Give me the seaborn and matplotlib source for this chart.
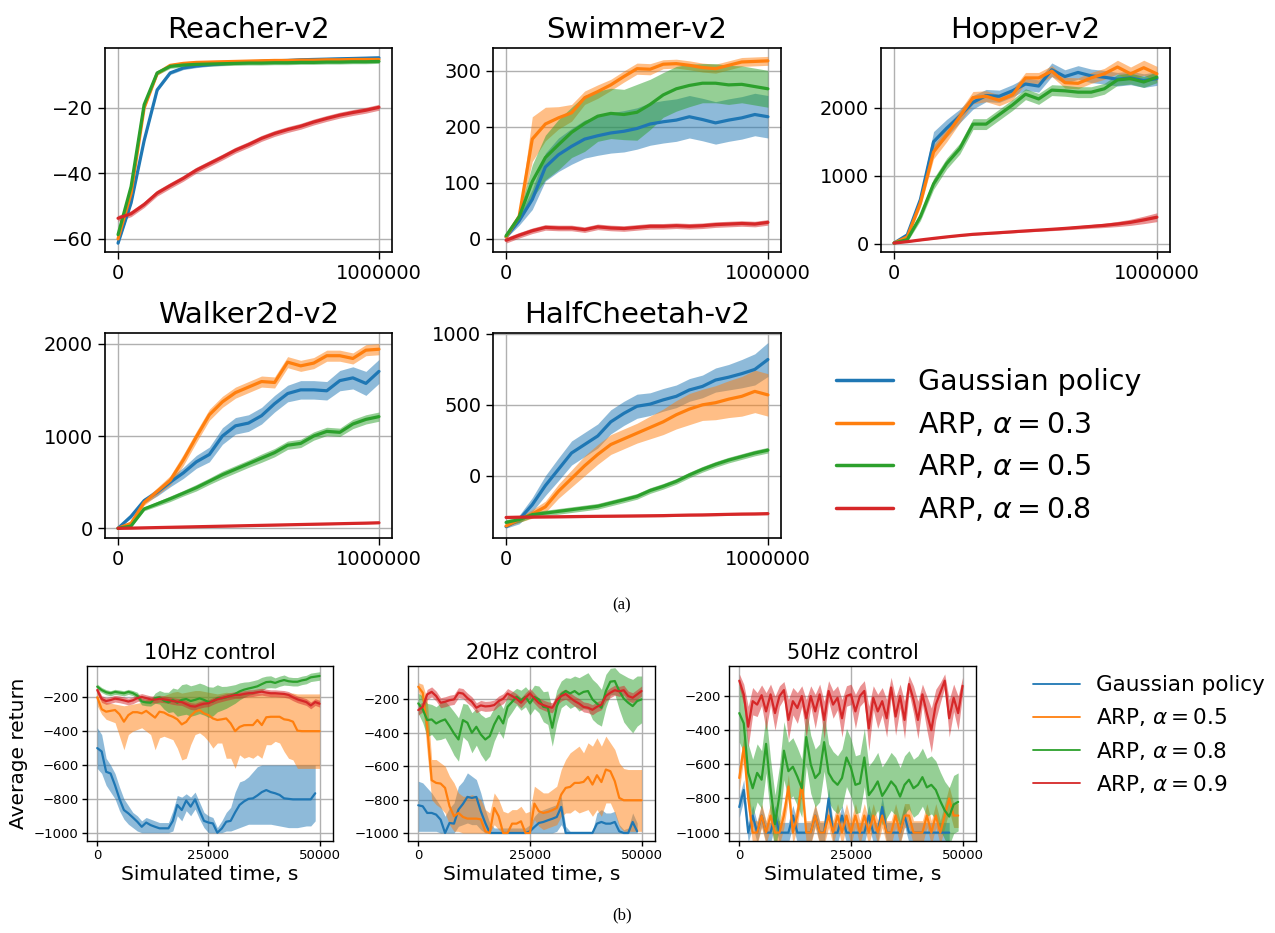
import numpy as np
import pandas as pd
import matplotlib
matplotlib.use("Agg")
import matplotlib.pyplot as plt
import seaborn as sns
from matplotlib.lines import Line2D

nan = np.nan

# ---------------- data: top panels (x every 50k steps) ----------------
TOP_X = list(range(0, 1000001, 50000))
TOP_TITLES = ["Reacher-v2", "Swimmer-v2", "Hopper-v2", "Walker2d-v2", "HalfCheetah-v2"]
TOP_LABELS = ["Gaussian policy", r"ARP, $\alpha=0.3$", r"ARP, $\alpha=0.5$", r"ARP, $\alpha=0.8$"]

R_BLUE = [-61.3, -49, -30, -14.5, -9.3, -7.8, -7.2, -6.8, -6.5, -6.2, -6.0, -5.8, -5.6, -5.5, -5.3, -5.2, -5.1, -5.0, -4.9, -4.8, -4.7]
R_ORANGE = [-60, -46, -20, -9.5, -7, -6.4, -6.1, -6.0, -5.9, -5.8, -5.7, -5.6, -5.5, -5.5, -5.4, -5.4, -5.3, -5.3, -5.2, -5.2, -5.2]
R_GREEN = [-58.7, -44, -19, -9.3, -7.3, -6.9, -6.7, -6.6, -6.5, -6.4, -6.3, -6.3, -6.2, -6.2, -6.1, -6.1, -6.0, -6.0, -5.9, -5.9, -5.8]
R_RED = [-53.7, -52.3, -49.5, -46, -43.7, -41.5, -39, -37, -35, -32.9, -31.2, -29.3, -27.8, -26.6, -25.6, -24.3, -23.2, -22.2, -21.4, -20.7, -19.8]
R_HW = [0.5, 0.5, 0.6, 0.9]

S_BLUE = [3, 32, 70, 128, 150, 165, 178, 184, 189, 192, 197, 205, 209, 212, 218, 213, 207, 212, 216, 222, 218]
S_ORANGE = [3, 40, 178, 205, 216, 225, 252, 263, 275, 290, 304, 303, 312, 313, 310, 306, 304, 310, 316, 317, 318]
S_GREEN = [5, 39, 102, 145, 168, 190, 206, 219, 224, 222, 226, 240, 257, 268, 274, 278, 278, 275, 276, 272, 268]
S_RED = [-3, 6, 14, 20, 19, 19, 16, 21, 19, 18, 20, 22, 22, 23, 22, 23, 25, 26, 27, 26, 29]
S_BLUE_HW = [2, 8, 18, 25, 30, 32, 34, 35, 36, 37, 37, 38, 38, 38, 38, 38, 38, 38, 38, 38, 38]
S_ORANGE_HW = [3, 5, 40, 30, 20, 15, 12, 12, 10, 10, 10, 10, 8, 8, 8, 8, 8, 8, 8, 8, 8]
S_GREEN_HW = [3, 8, 30, 40, 45, 45, 50, 45, 45, 45, 50, 45, 40, 40, 38, 35, 35, 35, 33, 33, 33]
S_RED_HW = 5

H_BLUE = [10, 130, 650, 1500, 1700, 1880, 2080, 2180, 2170, 2250, 2350, 2320, 2560, 2460, 2520, 2470, 2450, 2420, 2440, 2400, 2430]
H_ORANGE = [10, 100, 600, 1350, 1600, 1870, 2150, 2170, 2110, 2190, 2440, 2440, 2540, 2370, 2360, 2440, 2500, 2600, 2500, 2590, 2500]
H_GREEN = [10, 60, 400, 880, 1180, 1400, 1760, 1760, 1900, 2040, 2200, 2130, 2260, 2250, 2230, 2230, 2280, 2410, 2430, 2380, 2450]
H_RED = [10, 30, 55, 78, 100, 120, 138, 150, 162, 175, 188, 200, 212, 225, 240, 255, 270, 290, 315, 350, 390]
H_BLUE_HW = [10, 30, 80, 150, 130, 100, 100, 90, 90, 90, 90, 90, 100, 100, 100, 100, 100, 100, 100, 100, 100]
H_ORANGE_HW = [10, 30, 60, 100, 100, 90, 90, 80, 80, 80, 80, 80, 80, 80, 80, 80, 80, 100, 100, 110, 110]
H_GREEN_HW = [10, 30, 60, 80, 80, 80, 80, 80, 80, 80, 80, 80, 80, 80, 80, 80, 80, 80, 80, 80, 80]
H_RED_HW = [5, 8, 10, 10, 10, 10, 12, 12, 14, 15, 16, 18, 20, 22, 25, 28, 32, 38, 45, 55, 65]

W_BLUE = [0, 130, 300, 390, 500, 600, 720, 800, 1000, 1110, 1140, 1220, 1350, 1460, 1500, 1500, 1490, 1600, 1630, 1570, 1700]
W_ORANGE = [0, 55, 280, 400, 520, 740, 990, 1230, 1370, 1470, 1530, 1590, 1580, 1800, 1760, 1790, 1870, 1870, 1840, 1930, 1940]
W_GREEN = [0, 25, 210, 265, 320, 380, 440, 510, 580, 640, 700, 760, 820, 900, 920, 1000, 1050, 1040, 1130, 1180, 1210]
W_RED = [0, 2, 5, 8, 11, 14, 17, 20, 23, 26, 29, 32, 35, 38, 41, 44, 47, 50, 53, 56, 60]
W_BLUE_HW = [5, 20, 30, 40, 50, 60, 70, 80, 90, 90, 90, 90, 90, 90, 100, 100, 100, 110, 120, 130, 130]
W_ORANGE_HW = [5, 20, 30, 40, 50, 60, 60, 60, 60, 60, 60, 60, 60, 60, 60, 60, 60, 60, 60, 60, 60]
W_GREEN_HW = [5, 10, 20, 25, 30, 30, 35, 35, 40, 40, 40, 45, 45, 45, 45, 45, 45, 45, 50, 50, 50]
W_RED_HW = 8

C_BLUE = [-360, -310, -205, -70, 45, 160, 220, 280, 380, 440, 490, 505, 535, 560, 605, 630, 675, 695, 720, 750, 820]
C_ORANGE = [-355, -310, -270, -220, -110, -20, 70, 150, 220, 260, 300, 340, 380, 430, 470, 500, 515, 540, 560, 595, 570]
C_GREEN = [-330, -310, -275, -264, -252, -240, -228, -216, -193, -170, -146, -105, -75, -40, 5, 45, 80, 110, 135, 160, 180]
C_RED = [-295, -293, -292, -291, -290, -289, -288, -287, -286, -285, -284, -283, -282, -280, -278, -277, -275, -273, -271, -270, -268]
C_BLUE_HW = [10, 30, 50, 70, 80, 85, 85, 85, 85, 85, 85, 80, 80, 80, 80, 80, 85, 90, 100, 110, 120]
C_ORANGE_HW = [10, 20, 30, 40, 50, 60, 70, 70, 70, 70, 70, 80, 90, 100, 110, 110, 120, 130, 140, 150, 150]
C_GREEN_HW = 20
C_RED_HW = 8

TOP_YTICKS = [[-60, -40, -20], [0, 100, 200, 300], [0, 1000, 2000], [0, 1000, 2000], [0, 500, 1000]]
TOP_YLIM = [(-64, -1.7), (-24, 341), (-122, 2880), (-105, 2116), (-440, 1007)]

# ---------------- data: bottom panels (x every 1000 s) ----------------
BOT_X = list(range(0, 50001, 1000))
BOT_TITLES = ["10Hz control", "20Hz control", "50Hz control"]
BOT_LABELS = ["Gaussian policy", r"ARP, $\alpha=0.5$", r"ARP, $\alpha=0.8$", r"ARP, $\alpha=0.9$"]

# 10 Hz
A_BLUE = [-500, -520, -640, -650, -720, -800, -866, -886, -910, -935,
          -965, -940, -955, -965, -974, -974, -974, -930, -836, -866,
          -810, -846, -803, -870, -930, -940, -945, -1000, -975, -935,
          -930, -880, -836, -815, -800, -797, -780, -760, -748, -760,
          -767, -777, -797, -800, -803, -803, -803, -803, -803, -767, nan]
A_BLUE_HI = [-380, -420, -560, -600, -650, -730, -800, -840, -880, -900,
             -930, -910, -920, -930, -940, -940, -940, -870, -780, -790,
             -770, -790, -760, -820, -880, -900, -910, -970, -930, -880,
             -850, -760, -700, -690, -670, -640, -610, -600, -600, -600,
             -600, -600, -600, -600, -600, -600, -600, -600, -600, -600, nan]
A_BLUE_LO = [-620, -650, -720, -760, -800, -870, -920, -950, -970, -990,
             -1000, -1000, -1000, -1000, -1000, -1000, -1000, -990, -900, -930,
             -870, -900, -860, -920, -970, -1000, -1000, -1000, -1000, -990,
             -990, -980, -970, -960, -950, -950, -950, -950, -950, -950,
             -955, -960, -965, -970, -970, -970, -965, -960, -960, -930, nan]
A_ORANGE = [-200, -270, -285, -280, -275, -300, -344, -305, -288, -288,
            -295, -280, -300, -320, -285, -290, -305, -315, -330, -360,
            -345, -310, -285, -275, -295, -305, -325, -334, -330, -325,
            -354, -400, -375, -365, -364, -364, -334, -364, -318, -315,
            -315, -315, -330, -334, -344, -397, -400, -400, -400, -400, -400]
A_ORANGE_HI = [-150, -200, -230, -235, -240, -245, -250, -245, -240, -235,
               -230, -215, -210, -220, -200, -190, -180, -170, -165, -175,
               -170, -165, -160, -160, -165, -170, -175, -180, -175, -170,
               -175, -180, -175, -175, -175, -175, -175, -175, -175, -175,
               -175, -175, -175, -175, -175, -180, -180, -180, -180, -180, -180]
A_ORANGE_LO = [-250, -300, -330, -340, -350, -430, -510, -420, -400, -390,
               -380, -400, -420, -510, -440, -430, -440, -450, -500, -570,
               -560, -480, -420, -410, -430, -460, -500, -470, -470, -560,
               -560, -620, -540, -560, -550, -560, -540, -560, -480, -480,
               -460, -470, -520, -560, -570, -620, -620, -620, -620, -620, -620]
A_GREEN = [-137, -157, -170, -176, -168, -172, -176, -168, -175, -190,
           -225, -230, -232, -205, -200, -220, -230, -215, -232, -215,
           -210, -222, -215, -206, -215, -228, -225, -206, -206, -200,
           -190, -180, -165, -155, -148, -142, -135, -122, -110, -108,
           -115, -105, -98, -105, -108, -108, -100, -95, -82, -78, -74]
A_GREEN_HW = [15, 15, 15, 15, 15, 15, 15, 15, 15, 20,
              20, 20, 20, 30, 40, 50, 60, 70, 80, 90,
              90, 90, 90, 90, 90, 90, 85, 80, 70, 65,
              60, 55, 50, 45, 40, 40, 40, 40, 35, 35,
              30, 30, 30, 25, 25, 25, 25, 25, 25, 25, 25]
A_RED = [-157, -210, -222, -216, -208, -212, -218, -225, -218, -205,
         -198, -205, -212, -214, -208, -212, -216, -222, -226, -228,
         -240, -252, -255, -245, -238, -235, -222, -212, -205, -198,
         -192, -186, -186, -180, -176, -175, -170, -167, -172, -176,
         -176, -178, -180, -186, -200, -212, -220, -228, -248, -228, -238]
A_RED_HW = 20

# 20 Hz
B_BLUE = [-834, -840, -880, -880, -890, -920, -1000, -940, -944, -860,
          -826, -784, -790, -784, -870, -940, -1000, -1000, -1000, -1000,
          -1000, -1000, -1000, -1000, -1000, -990, -964, -940, -934, -924,
          -915, -904, -844, -1000, -1000, -1000, -1000, -1000, -1000, -1000,
          -944, -934, -944, -944, -934, -990, -1000, -1000, -934, -990, nan]
B_BLUE_HI = [-690, -700, -730, -760, -800, -840, -900, -850, -820, -720,
             -690, -640, -660, -680, -760, -860, -940, -970, -970, -970,
             -970, -970, -970, -970, -970, -950, -900, -870, -860, -850,
             -840, -830, -780, -960, -990, -990, -990, -990, -990, -990,
             -880, -860, -880, -880, -870, -950, -980, -970, -880, -940, nan]
B_BLUE_LO = [-990, -990, -990, -990, -990, -1000, -1000, -1000, -1000, -960,
             -950, -940, -950, -950, -980, -1000, -1000, -1000, -1000, -1000,
             -1000, -1000, -1000, -1000, -1000, -1000, -1000, -1000, -1000, -1000,
             -1000, -990, -950, -1000, -1000, -1000, -1000, -1000, -1000, -1000,
             -1000, -1000, -1000, -1000, -1000, -1000, -1000, -1000, -1000, -1000, nan]
B_ORANGE = [-124, -160, -364, -684, -700, -704, -730, -840, -900, -880,
            -904, -914, -914, -914, -918, -990, -1000, -850, -900, -1000,
            -1000, -944, -944, -930, -1000, -1000, -824, -870, -880, -874,
            -864, -850, -770, -730, -724, -700, -700, -694, -664, -710,
            -654, -695, -620, -630, -690, -790, -804, -804, -804, -804, -804]
B_ORANGE_HI = [-100, -110, -200, -560, -560, -580, -600, -660, -700, -760,
               -780, -780, -770, -780, -800, -860, -880, -760, -800, -870,
               -880, -860, -860, -840, -880, -870, -720, -740, -760, -760,
               -740, -720, -620, -560, -520, -500, -480, -520, -460, -480,
               -430, -480, -420, -460, -500, -580, -614, -620, -620, -620, -620]
B_ORANGE_LO = [-150, -220, -520, -800, -830, -850, -880, -950, -990, -990,
               -1000, -1000, -1000, -1000, -1000, -1000, -1000, -950, -980, -1000,
               -1000, -1000, -1000, -1000, -1000, -1000, -920, -960, -980, -970,
               -960, -950, -900, -880, -880, -860, -880, -870, -860, -900,
               -860, -900, -820, -820, -880, -960, -990, -990, -990, -990, -990]
B_GREEN = [-224, -260, -324, -320, -344, -330, -320, -360, -404, -440,
           -324, -340, -400, -364, -410, -440, -420, -350, -300, -344,
           -244, -215, -184, -205, -184, -224, -185, -200, -244, -250,
           -370, -244, -170, -150, -164, -150, -170, -155, -150, -200,
           -225, -250, -150, -94, -90, -150, -195, -220, -240, -210, -200]
B_GREEN_HW = [60, 80, 100, 90, 100, 110, 110, 120, 130, 130,
              100, 110, 120, 110, 120, 130, 120, 100, 90, 90,
              70, 60, 50, 60, 60, 70, 70, 80, 90, 100,
              110, 100, 80, 80, 90, 90, 100, 100, 110, 120,
              120, 110, 100, 80, 80, 110, 140, 150, 160, 150, 140]
B_RED = [-264, -244, -170, -155, -180, -220, -214, -205, -200, -160,
         -165, -192, -214, -250, -236, -242, -240, -234, -210, -196,
         -165, -180, -196, -220, -190, -164, -194, -222, -234, -244,
         -250, -205, -180, -168, -190, -210, -225, -245, -250, -262,
         -244, -232, -180, -160, -145, -152, -145, -180, -190, -170, -150]
B_RED_HW = 30

# 50 Hz
D_BLUE = [-850, -750, -1000, -900, -1000, -900, -1000, -1000, -900, -1000,
          -1000, -1000, -900, -1000, -1000, -1000, -1000, -900, -1000, -1000,
          -800, -1000, -1000, -900, -1000, -1000, -1000, -1000, -1000, -900,
          -1000, -1000, -850, -1000, -1000, -1000, -1000, -900, -1000, -1000,
          -1000, -1000, -1000, -1000, -1000, -1000, -1000, -1000, nan, nan, nan]
D_BLUE_HW = 60
D_ORANGE = [-680, -500, -800, -1000, -1000, -900, -1000, -900, -1000, -1000,
            -900, -730, -1000, -900, -700, -1000, -1000, -900, -1000, -1000,
            -900, -1000, -900, -1000, -900, -1000, -900, -1000, -900, -1000,
            -900, -1000, -900, -1000, -1000, -900, -1000, -900, -900, -1000,
            -1000, -1000, -900, -1000, -900, -1000, -900, -800, -900, -900, nan]
D_ORANGE_HW = 70
D_GREEN = [-300, -360, -650, -740, -650, -690, -480, -740, -950, -780,
           -520, -640, -614, -672, -740, -440, -600, -680, -650, -470,
           -650, -695, -720, -680, -560, -620, -720, -711, -560, -780,
           -745, -700, -785, -745, -700, -730, -789, -720, -690, -740,
           -720, -675, -735, -720, -750, -815, -870, -906, -835, -820, nan]
D_GREEN_HW = 170
D_RED = [-110, -190, -380, -230, -250, -195, -290, -190, -300, -200,
         -165, -340, -230, -270, -200, -330, -200, -290, -190, -340,
         -170, -250, -210, -330, -200, -190, -290, -200, -170, -390,
         -210, -290, -230, -330, -150, -320, -200, -340, -130, -220,
         -340, -190, -300, -400, -250, -180, -110, -330, -210, -300, -140]
D_RED_HW = [40, 60, 120, 80, 70, 60, 110, 60, 100, 60,
            50, 120, 80, 90, 60, 110, 60, 100, 60, 110,
            60, 80, 70, 110, 60, 60, 100, 60, 60, 130,
            70, 100, 80, 110, 60, 110, 70, 110, 50, 80,
            110, 60, 100, 130, 90, 60, 40, 110, 80, 100, 50]

# ---------------- drawing ----------------
sns.set_style("ticks")
plt.rcParams["font.family"] = ["DejaVu Sans"]
plt.rcParams["mathtext.fontset"] = "dejavusans"
for key in ["text.color", "axes.labelcolor", "xtick.color", "ytick.color"]:
    plt.rcParams[key] = "black"
COLORS = sns.color_palette("tab10")[:4]

W, H = 1275, 933
fig = plt.figure(figsize=(W / 100, H / 100), dpi=100)


def rect(l, t, r, b):
    return [l / W, 1 - b / H, (r - l) / W, (b - t) / H]


def band(mean, lo=None, hi=None, hw=None):
    m = np.asarray(mean, dtype=float)
    if hw is not None:
        h = np.broadcast_to(np.asarray(hw, dtype=float), m.shape)
        return m - h, m + h
    return np.asarray(lo, dtype=float), np.asarray(hi, dtype=float)


def draw(ax, x, mean, lo, hi, color, lw):
    ax.fill_between(x, lo, hi, color=color, alpha=0.5, lw=0)
    df = pd.DataFrame({"x": x, "y": mean}).dropna()
    sns.lineplot(data=df, x="x", y="y", ax=ax, color=color, lw=lw,
                 estimator=None, legend=False, sort=False)


TOP_RECTS = [(105, 48, 392, 252), (493, 48, 781, 252), (881, 48, 1170, 252),
             (105, 333, 392, 538), (493, 333, 781, 538)]
TOP_DATA = [
    [(R_BLUE, R_HW[0]), (R_ORANGE, R_HW[1]), (R_GREEN, R_HW[2]), (R_RED, R_HW[3])],
    [(S_BLUE, S_BLUE_HW), (S_ORANGE, S_ORANGE_HW), (S_GREEN, S_GREEN_HW), (S_RED, S_RED_HW)],
    [(H_BLUE, H_BLUE_HW), (H_ORANGE, H_ORANGE_HW), (H_GREEN, H_GREEN_HW), (H_RED, H_RED_HW)],
    [(W_BLUE, W_BLUE_HW), (W_ORANGE, W_ORANGE_HW), (W_GREEN, W_GREEN_HW), (W_RED, W_RED_HW)],
    [(C_BLUE, C_BLUE_HW), (C_ORANGE, C_ORANGE_HW), (C_GREEN, C_GREEN_HW), (C_RED, C_RED_HW)],
]

for i in range(5):
    ax = fig.add_axes(rect(*TOP_RECTS[i]))
    for (mean, hw), c in zip(TOP_DATA[i], COLORS):
        lo, hi = band(mean, hw=hw)
        draw(ax, TOP_X, mean, lo, hi, c, 2.3)
    ax.set_xlim(-50000, 1050000)
    ax.set_ylim(*TOP_YLIM[i])
    ax.set_xticks([0, 1000000])
    ax.set_xticklabels(["0", "1000000"])
    ax.set_yticks(TOP_YTICKS[i])
    ax.tick_params(labelsize=14, length=5, width=1, color="black")
    ax.grid(True, color="#b0b0b0", lw=1)
    for s in ax.spines.values():
        s.set_color("black")
        s.set_linewidth(1.2)
    ax.set_xlabel("")
    ax.set_ylabel("")
    ax.set_title(TOP_TITLES[i], fontsize=21, pad=7)

top_handles = [Line2D([], [], color=c, lw=2.5) for c in COLORS]
fig.legend(top_handles, TOP_LABELS, loc="center left",
           bbox_to_anchor=(825 / W, 1 - 446 / H), frameon=False, fontsize=20.5,
           handlelength=2.0, handletextpad=0.85, labelspacing=0.52, borderaxespad=0)

BOT_RECTS = [(87, 666, 333, 841), (408, 666, 655, 841), (729, 666, 976, 841)]
BOT_DATA = [
    [band(A_BLUE, A_BLUE_LO, A_BLUE_HI), band(A_ORANGE, A_ORANGE_LO, A_ORANGE_HI),
     band(A_GREEN, hw=A_GREEN_HW), band(A_RED, hw=A_RED_HW)],
    [band(B_BLUE, B_BLUE_LO, B_BLUE_HI), band(B_ORANGE, B_ORANGE_LO, B_ORANGE_HI),
     band(B_GREEN, hw=B_GREEN_HW), band(B_RED, hw=B_RED_HW)],
    [band(D_BLUE, hw=D_BLUE_HW), band(D_ORANGE, hw=D_ORANGE_HW),
     band(D_GREEN, hw=D_GREEN_HW), band(D_RED, hw=D_RED_HW)],
]
BOT_MEANS = [[A_BLUE, A_ORANGE, A_GREEN, A_RED],
             [B_BLUE, B_ORANGE, B_GREEN, B_RED],
             [D_BLUE, D_ORANGE, D_GREEN, D_RED]]
BOT_YLIM = [(-1049, -15), (-1048, 0), (-1049, -24)]

for i in range(3):
    ax = fig.add_axes(rect(*BOT_RECTS[i]))
    for mean, (lo, hi), c in zip(BOT_MEANS[i], BOT_DATA[i], COLORS):
        draw(ax, BOT_X, mean, lo, hi, c, 1.6)
    ax.set_xlim(-2300, 53000)
    ax.set_ylim(*BOT_YLIM[i])
    ax.set_xticks([0, 25000, 50000])
    ax.set_yticks([-1000, -800, -600, -400, -200])
    ax.tick_params(labelsize=9.5, length=3.5, width=1, color="black", pad=2.5)
    ax.grid(True, color="#b0b0b0", lw=1)
    for s in ax.spines.values():
        s.set_color("black")
        s.set_linewidth(1.0)
    ax.set_xlabel("Simulated time, s", fontsize=14.5, labelpad=2)
    ax.set_ylabel("Average return" if i == 0 else "", fontsize=14.5)
    ax.set_title(BOT_TITLES[i], fontsize=15, pad=5)

bot_handles = [Line2D([], [], color=c, lw=1.3) for c in COLORS]
fig.legend(bot_handles, BOT_LABELS, loc="center left",
           bbox_to_anchor=(1024 / W, 1 - 735 / H), frameon=False, fontsize=15.5,
           handlelength=2.2, handletextpad=0.75, labelspacing=0.52, borderaxespad=0)

fig.text(622 / W, 1 - 605 / H, "(a)", ha="center", va="center",
         family="Liberation Serif", fontsize=12)
fig.text(622 / W, 1 - 915 / H, "(b)", ha="center", va="center",
         family="Liberation Serif", fontsize=12)

fig.savefig("out.png", dpi=100)
